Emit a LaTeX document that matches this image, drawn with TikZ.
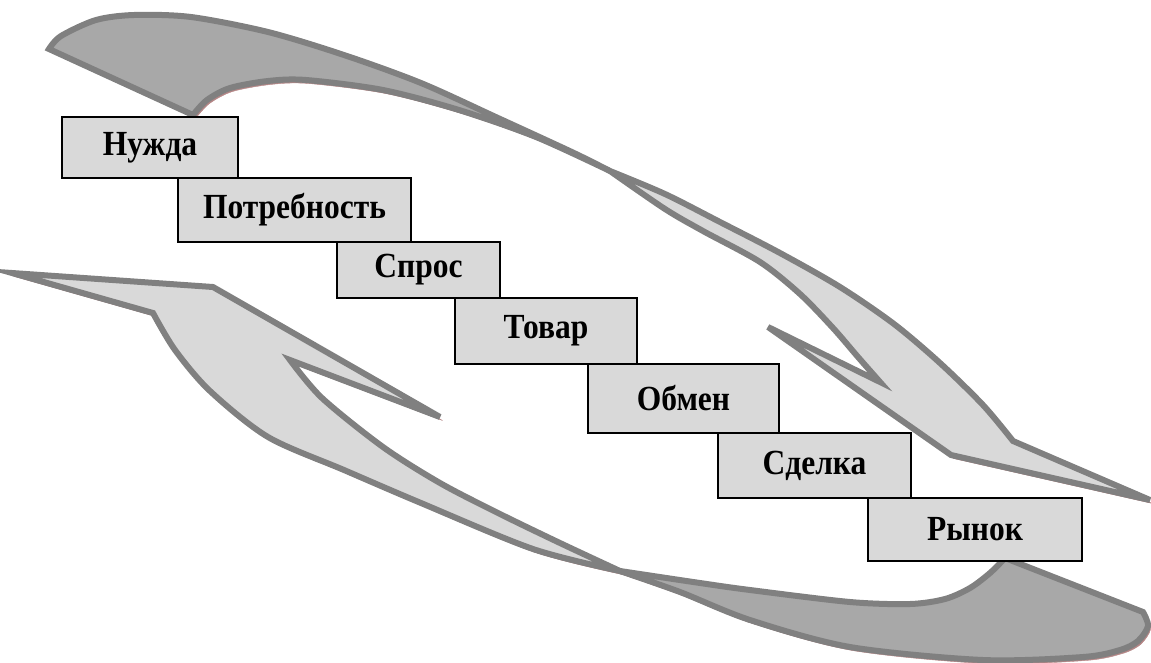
\documentclass[tikz,border=0pt]{standalone}
\usepackage{fontspec}
\setmainfont{Liberation Serif}
\usepackage{graphicx}
\usepackage{tikz}
\definecolor{ribbonline}{RGB}{128,128,128}
\definecolor{ribbonback}{RGB}{168,168,168}
\definecolor{ribbonfront}{RGB}{217,217,217}
\definecolor{ribbonshadow}{RGB}{180,134,134}
\definecolor{stepfill}{RGB}{217,217,217}
\newcommand{\steptext}[1]{\scalebox{1}[1.12]{#1}}

\begin{document}
\begin{tikzpicture}[x=1pt, y=-1pt,
    stepbox/.style={draw=black, line width=2pt, fill=stepfill, inner sep=0pt,
        font=\fontsize{31.5}{36}\selectfont\bfseries},
    ribbon/.style={draw=ribbonline, line width=6pt,
        preaction={draw=ribbonshadow, fill=ribbonshadow, transform canvas={xshift=2.5pt, yshift=-3.5pt}}}]
    \useasboundingbox (0,0) rectangle (1151,662);

    % upper ribbon: back part, then front part with head
    \draw[ribbon, fill=ribbonback] (49,49) -- (193,115)
        -- plot[smooth] coordinates {(193,115) (207,100) (230,88) (268,81) (306,80) (383,90) (459,110) (536,137) (610,171)}
        -- plot[smooth] coordinates {(610,171) (574,153) (498,118) (421,83) (344,55) (268,32) (191,17) (134,15) (96,20) (61,36) (49,49)} -- cycle;
    \draw[ribbon, fill=ribbonfront] (610,171)
        -- plot[smooth] coordinates {(610,171) (665,194) (720,222) (780,253) (840,287) (894,324) (940,363) (983,405) (1013,441)}
        -- (1150,500) -- (951,455) -- (768,327) -- (880,382)
        -- plot[smooth] coordinates {(880,382) (858,357) (833,328) (800,294) (760,262) (703,231) (665,209) (610,171)} -- cycle;

    % lower ribbon: front part with head, then back part
    \draw[ribbon, fill=ribbonfront] (12,273) -- (213,287) -- (440,417) -- (290,360)
        -- plot[smooth] coordinates {(290,360) (322,398) (383,447) (440,483) (498,513) (560,543) (620,571)}
        -- plot[smooth] coordinates {(620,571) (533,549) (421,503) (344,470) (268,437) (210,391) (175,350) (153,313)} -- cycle;
    \draw[ribbon, fill=ribbonback] (620,571)
        -- plot[smooth] coordinates {(620,571) (700,583) (750,590) (850,602) (910,604) (945,599) (970,588) (990,573) (1005,558)}
        -- (1143,612)
        -- plot[smooth] coordinates {(1143,612) (1148,626) (1138,641) (1120,650) (1083,657) (983,660) (850,647) (750,620) (680,592) (620,571)} -- cycle;

    % steps
    \node[stepbox, minimum width=176pt, minimum height=61pt] (nuzhda) at (150,147.5) {\steptext{Нужда}};
    \node[stepbox, minimum width=233pt, minimum height=64pt] (potrebnost) at (294.5,210) {\steptext{Потребность}};
    \node[stepbox, minimum width=163pt, minimum height=56pt] (spros) at (418.5,270) {\steptext{Спрос}};
    \node[stepbox, minimum width=182pt, minimum height=66pt] (tovar) at (546,331) {\steptext{Товар}};
    \node[stepbox, minimum width=191pt, minimum height=69pt] (obmen) at (683.5,398.5) {\steptext{Обмен}};
    \node[stepbox, minimum width=193pt, minimum height=65pt] (sdelka) at (814.5,465.5) {\steptext{Сделка}};
    \node[stepbox, minimum width=214pt, minimum height=63pt] (rynok) at (975,529.5) {\steptext{Рынок}};
\end{tikzpicture}
\end{document}
